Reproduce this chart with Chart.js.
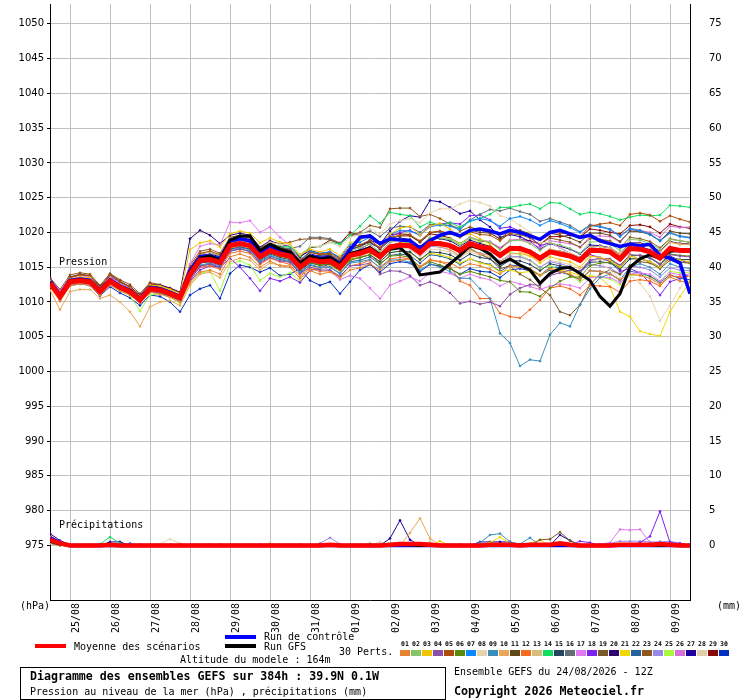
<!DOCTYPE html>
<html>
<head>
<meta charset="utf-8">
<script src="https://cdn.jsdelivr.net/npm/chart.js"></script>
<style>
html,body{margin:0;padding:0;background:#fff;}
#wrap{position:relative;width:740px;height:700px;overflow:hidden;background:#fff;}
#c{position:absolute;left:0;top:0;}
.t{position:absolute;font-family:"DejaVu Sans Mono",monospace;font-size:10px;line-height:12px;height:12px;color:#000;white-space:nowrap;}
.b{font-weight:bold;}
.ln{position:absolute;height:4px;width:31px;}
.sq{position:absolute;width:10px;height:6px;top:650px;}
.sl{position:absolute;top:640px;width:11px;text-align:center;font-family:"DejaVu Sans Mono",monospace;font-weight:bold;font-size:6.5px;line-height:8px;color:#000;}
#box{position:absolute;left:20px;top:667px;width:424px;height:31px;border:1px solid #000;}
</style>
</head>
<body>
<div id="wrap">
<canvas id="c" width="740" height="700"></canvas>
<div class="t" style="left:59px;top:256px;">Pression</div>
<div class="t" style="left:59px;top:519px;">Précipitations</div>
<div class="t" style="left:20px;top:600px;">(hPa)</div>
<div class="t" style="left:717px;top:600px;">(mm)</div>
<div class="ln" style="left:35px;top:644px;background:#ff0000;"></div>
<div class="t" style="left:74px;top:641px;">Moyenne des scénarios</div>
<div class="ln" style="left:225px;top:635px;background:#0000ff;"></div>
<div class="t" style="left:264px;top:631px;">Run de contrôle</div>
<div class="ln" style="left:225px;top:644px;background:#000;"></div>
<div class="t" style="left:264px;top:641px;">Run GFS</div>
<div class="t" style="left:339px;top:646px;">30 Perts.</div>
<div class="t" style="left:180px;top:654px;">Altitude du modele : 164m</div>
<div id="squares"></div>
<div id="box"></div>
<div class="t b" style="left:30px;top:670px;font-size:11.6px;line-height:13px;">Diagramme des ensembles GEFS sur 384h : 39.9N 0.1W</div>
<div class="t" style="left:30px;top:686px;">Pression au niveau de la mer (hPa) , précipitations (mm)</div>
<div class="t" style="left:454px;top:666px;">Ensemble GEFS du 24/08/2026 - 12Z</div>
<div class="t b" style="left:454px;top:685px;font-size:11.7px;line-height:13px;">Copyright 2026 Meteociel.fr</div>
</div>
<script>
// ---------- DATA ----------
const STEP_H = 6;            // hours between points (0..384h)
const DATE_LABELS = ['25/08','26/08','27/08','28/08','29/08','30/08','31/08','01/09','02/09','03/09','04/09','05/09','06/09','07/09','08/09','09/09'];
const DATE_HOURS  = [12,36,60,84,108,132,156,180,204,228,252,276,300,324,348,372];
const P_TICKS = [975,980,985,990,995,1000,1005,1010,1015,1020,1025,1030,1035,1040,1045,1050];
const R_TICKS = [0,5,10,15,20,25,30,35,40,45,50,55,60,65,70,75];
const PERT_COLORS = ['#E8822E','#88C46A','#F2C300','#8C4FA8','#B04C0A','#5A8A0A','#0A88FF','#E8D2AE','#3A8EBE','#E8A858',
                     '#60481A','#F86A20','#D4C07C','#10DC60','#25455C','#626E78','#E07AF0','#8020F0','#7A5A2A','#2E0670',
                     '#F0D800','#24609A','#8E5820','#9A88E8','#A8F840','#D870D8','#2000A0','#E2CEA8','#880808','#0030C0'];

// Sea level pressure (hPa)
const MEAN_P = [1012.7,1010.8,1012.9,1013.1,1012.9,1011.5,1013.0,1012.1,1011.5,1010.3,1011.9,1011.7,1011.2,1010.6,
1014.0,1016.0,1016.1,1015.7,1018.1,1018.4,1018.1,1016.5,1017.4,1016.9,1016.6,1015.0,1016.1,1015.8,1015.9,1015.0,
1016.7,1017.0,1017.5,1016.5,1017.9,1018.2,1018.1,1017.1,1018.4,1018.4,1018.1,1017.4,1018.4,1017.9,1017.7,1016.7,
1017.7,1017.7,1017.2,1016.3,1017.2,1016.9,1016.6,1016.0,1017.4,1017.4,1017.2,1016.2,1017.7,1017.6,1017.2,1016.3,1017.7,1017.4,1017.4];
const CTRL_P = [1012.9,1011.0,1013.1,1013.3,1013.1,1011.7,1013.2,1012.3,1011.7,1010.5,1012.1,1011.9,1011.4,1010.8,
1014.5,1016.5,1016.6,1016.2,1018.8,1019.1,1018.8,1017.0,1017.9,1017.3,1017.1,1015.5,1016.6,1016.3,1016.4,1015.5,
1017.5,1019.3,1019.5,1018.4,1019.1,1018.9,1018.8,1017.7,1018.8,1019.6,1020.0,1019.5,1020.3,1020.5,1020.2,1019.8,
1020.3,1020.0,1019.5,1019.0,1020.0,1020.3,1019.8,1019.3,1019.6,1018.8,1018.4,1018.0,1018.3,1018.1,1018.3,1016.7,1016.3,1015.6,1011.2];
const GFS_P = [1012.8,1010.9,1013.0,1013.2,1013.0,1011.6,1013.1,1012.2,1011.6,1010.4,1012.0,1011.8,1011.3,1010.7,
1014.3,1016.3,1016.6,1016.0,1018.9,1019.5,1019.5,1017.4,1018.3,1017.6,1017.2,1015.6,1016.6,1016.2,1016.4,1015.4,
1017.0,1017.3,1017.8,1016.8,1017.6,1017.8,1016.5,1013.9,1014.1,1014.3,1015.5,1016.7,1018.1,1017.7,1016.9,1015.5,
1016.2,1015.3,1014.6,1012.7,1014.1,1014.8,1015.0,1014.1,1013.1,1010.8,1009.4,1011.2,1015.0,1016.2,1016.8,1016.2,1017.3,1017.4,1017.4];

const P01 = [1012.2,1010.1,1012.3,1012.6,1012.4,1011.0,1012.4,1011.6,1011.0,1009.9,1011.4,1011.1,1010.7,1010.0,
1012.8,1014.3,1014.6,1014.0,1016.5,1016.9,1016.4,1015.0,1015.9,1015.2,1015.0,1013.4,1014.5,1014.0,1014.3,1013.5,
1014.6,1014.9,1015.5,1014.6,1015.8,1016.0,1016.2,1015.0,1016.0,1015.8,1015.6,1014.9,1015.5,1015.2,1014.7,1014.0,
1015.2,1015.0,1014.8,1013.9,1014.8,1014.4,1014.0,1013.3,1014.5,1014.4,1014.0,1013.2,1014.0,1013.8,1013.4,1012.6,1013.6,1013.0,1012.8];
const P02 = [1012.9,1011.2,1013.2,1013.4,1013.2,1011.9,1013.3,1012.5,1011.8,1010.7,1012.2,1012.0,1011.5,1010.8,
1014.5,1016.4,1016.6,1016.1,1018.7,1019.0,1018.6,1017.0,1017.9,1017.5,1017.2,1015.6,1016.8,1016.4,1016.5,1015.6,
1017.3,1017.8,1018.3,1017.2,1018.6,1019.0,1018.8,1017.8,1019.3,1019.2,1019.0,1018.1,1019.2,1018.9,1018.6,1017.5,
1018.8,1018.9,1018.4,1017.4,1018.5,1018.2,1017.7,1017.0,1018.6,1018.7,1018.4,1017.4,1019.0,1018.9,1018.4,1017.6,1019.0,1018.8,1018.6];
const P03 = [1013.0,1011.0,1013.3,1013.6,1013.5,1012.0,1013.4,1012.4,1011.9,1010.8,1012.4,1012.3,1011.8,1011.2,
1017.5,1018.5,1018.8,1017.9,1019.8,1020.2,1019.9,1018.5,1019.2,1018.6,1018.4,1016.8,1017.6,1017.2,1017.6,1016.6,
1018.5,1018.9,1019.6,1018.2,1019.8,1020.6,1020.9,1019.6,1020.9,1021.3,1020.5,1019.4,1019.8,1019.1,1018.3,1016.9,
1017.6,1017.3,1016.6,1015.6,1016.5,1016.1,1015.8,1015.0,1016.6,1016.4,1016.0,1015.1,1016.6,1016.2,1015.8,1015.0,1016.4,1016.0,1015.8];
const P04 = [1012.5,1010.6,1012.7,1012.9,1012.6,1011.2,1012.8,1011.9,1011.2,1010.0,1011.6,1011.4,1010.9,1010.3,
1013.2,1015.1,1015.5,1015.0,1017.3,1017.7,1017.2,1015.6,1016.4,1015.9,1015.7,1014.1,1015.0,1014.6,1014.6,1013.7,
1015.2,1015.3,1015.6,1014.0,1014.5,1014.4,1013.8,1012.4,1012.9,1012.3,1011.3,1009.8,1010.1,1009.7,1010.0,1009.4,
1011.1,1012.0,1012.5,1012.4,1013.8,1014.2,1014.6,1014.4,1016.0,1016.3,1016.2,1015.3,1016.8,1016.7,1016.4,1015.4,1016.8,1016.6,1016.5];
const P05 = [1013.1,1011.3,1013.5,1013.9,1013.8,1012.2,1013.9,1012.9,1012.1,1010.9,1012.6,1012.3,1011.9,1011.3,
1015.0,1017.0,1017.3,1016.8,1019.0,1019.3,1019.0,1017.4,1018.2,1017.8,1017.5,1016.0,1017.1,1016.9,1017.0,1016.2,
1017.8,1018.2,1018.9,1017.8,1019.3,1019.6,1019.6,1018.8,1020.0,1020.2,1019.8,1019.3,1020.1,1019.7,1019.6,1018.8,
1019.9,1020.1,1019.6,1019.0,1020.0,1019.9,1019.8,1019.4,1020.9,1021.2,1021.4,1021.0,1022.6,1022.8,1022.5,1021.6,1022.4,1021.9,1021.5];
const P06 = [1012.8,1010.9,1012.8,1013.0,1012.7,1011.4,1012.9,1012.0,1011.4,1010.1,1011.8,1011.5,1011.0,1010.4,
1014.1,1015.8,1016.0,1015.6,1018.0,1018.2,1017.9,1016.3,1017.2,1016.6,1016.3,1014.7,1015.7,1015.3,1015.5,1014.6,
1016.0,1016.4,1016.8,1015.5,1016.6,1016.7,1016.4,1015.0,1015.8,1015.3,1014.8,1014.0,1014.4,1014.0,1013.6,1013.1,
1012.9,1011.5,1011.4,1010.8,1012.0,1013.0,1013.6,1013.6,1015.2,1015.6,1015.7,1015.0,1016.6,1016.7,1016.4,1015.5,1016.9,1016.7,1016.6];
const P07 = [1012.9,1011.0,1013.1,1013.3,1013.1,1011.7,1013.2,1012.3,1011.7,1010.5,1012.1,1011.9,1011.4,1010.8,
1014.6,1016.5,1016.7,1016.3,1018.8,1019.2,1018.8,1017.3,1018.3,1017.8,1017.6,1016.0,1017.3,1017.0,1017.2,1016.4,
1018.3,1018.6,1019.3,1018.5,1019.7,1020.3,1020.2,1019.6,1020.8,1021.1,1020.9,1020.4,1021.7,1022.0,1021.7,1020.9,
1022.0,1022.3,1021.8,1021.0,1021.7,1021.3,1020.7,1020.0,1021.0,1020.8,1020.4,1019.4,1020.5,1020.2,1019.7,1018.8,1019.9,1019.4,1019.2];
const P08 = [1012.6,1010.9,1013.0,1013.2,1013.0,1011.6,1013.1,1012.2,1011.6,1010.4,1012.0,1011.8,1011.3,1010.7,
1014.8,1017.0,1017.2,1016.7,1019.1,1019.3,1019.0,1017.6,1018.6,1018.3,1018.2,1016.8,1018.0,1018.0,1018.6,1018.0,
1019.3,1019.7,1020.5,1019.8,1021.2,1021.7,1022.0,1021.4,1022.8,1023.4,1023.4,1024.1,1024.6,1024.3,1023.8,1022.4,
1022.0,1021.0,1020.0,1018.5,1018.6,1017.8,1017.0,1015.8,1016.4,1015.6,1014.6,1013.4,1013.8,1012.7,1010.8,1007.3,1009.5,1012.0,1014.0];
const P09 = [1012.5,1010.5,1012.6,1012.8,1012.5,1011.1,1012.6,1011.7,1011.2,1010.0,1011.5,1011.3,1010.8,1010.1,
1013.5,1015.3,1015.6,1015.2,1017.5,1017.8,1017.5,1015.9,1016.7,1016.2,1015.9,1014.3,1015.4,1015.0,1015.0,1014.1,
1015.6,1015.8,1016.1,1014.9,1016.0,1016.1,1015.7,1014.6,1015.5,1015.0,1014.4,1013.4,1013.4,1011.9,1010.5,1005.5,
1004.1,1000.8,1001.7,1001.5,1005.3,1007.0,1006.5,1009.6,1011.9,1013.5,1014.0,1013.2,1015.0,1015.5,1015.0,1014.0,1015.5,1015.0,1014.8];
const P10 = [1011.7,1008.9,1011.5,1011.8,1011.8,1010.5,1011.0,1010.0,1008.6,1006.5,1009.3,1010.0,1010.2,1009.5,
1012.4,1014.0,1014.3,1013.5,1015.8,1016.3,1016.0,1014.6,1015.6,1015.3,1015.2,1013.8,1015.0,1014.9,1015.2,1014.4,
1016.0,1016.5,1017.2,1016.4,1017.6,1018.0,1018.0,1017.0,1018.2,1018.0,1017.5,1016.6,1017.5,1016.9,1016.7,1015.8,
1016.9,1017.0,1016.6,1015.9,1017.0,1016.8,1016.6,1016.1,1017.6,1017.7,1017.6,1016.8,1018.3,1018.3,1018.0,1017.2,1018.6,1018.3,1018.3];
const P11 = [1013.2,1011.2,1013.6,1014.0,1013.8,1012.0,1014.0,1013.0,1012.2,1010.9,1012.4,1012.1,1011.6,1010.9,
1014.9,1016.9,1017.2,1016.6,1019.1,1019.4,1019.2,1017.8,1018.5,1017.9,1017.5,1016.0,1017.2,1016.8,1016.8,1016.0,
1017.6,1018.0,1018.6,1017.7,1019.1,1019.5,1019.5,1018.6,1020.0,1020.1,1019.9,1019.4,1020.4,1020.0,1019.9,1019.1,
1020.2,1020.3,1019.8,1019.0,1019.9,1019.6,1019.2,1018.6,1019.9,1019.9,1019.6,1018.7,1020.2,1020.1,1019.7,1018.8,1020.2,1019.9,1019.8];
const P12 = [1012.3,1010.3,1012.5,1012.7,1012.5,1011.1,1012.6,1011.7,1011.1,1009.9,1011.5,1011.3,1010.8,1010.2,
1013.2,1015.0,1015.2,1014.7,1017.0,1017.3,1017.0,1015.4,1016.3,1015.8,1015.4,1013.7,1014.8,1014.4,1014.5,1013.6,
1015.2,1015.5,1016.0,1015.0,1016.2,1016.4,1016.2,1015.1,1016.1,1015.8,1015.2,1013.0,1012.4,1010.5,1010.5,1008.4,
1007.9,1007.7,1008.9,1010.3,1012.0,1012.3,1011.9,1011.0,1012.4,1012.3,1012.2,1011.4,1013.0,1013.2,1013.0,1012.3,1013.8,1013.6,1013.7];
const P13 = [1012.8,1010.9,1013.0,1013.2,1013.0,1011.6,1013.1,1012.2,1011.6,1010.4,1012.0,1011.8,1011.3,1010.7,
1014.0,1015.9,1016.0,1015.5,1017.9,1018.2,1017.9,1016.3,1017.2,1016.7,1016.5,1014.9,1016.1,1015.8,1015.9,1015.1,
1016.8,1017.1,1017.5,1016.6,1018.0,1018.2,1018.1,1017.1,1018.3,1018.2,1017.9,1017.2,1018.3,1017.8,1017.6,1016.6,
1017.8,1017.9,1017.4,1016.6,1017.6,1017.3,1017.0,1016.4,1017.9,1018.0,1017.8,1016.9,1018.4,1018.4,1018.0,1017.2,1018.6,1018.3,1018.3];
const P14 = [1012.9,1011.1,1013.2,1013.4,1013.1,1011.8,1013.3,1012.4,1011.8,1010.6,1012.2,1012.0,1011.5,1010.9,
1014.6,1016.6,1016.8,1016.3,1018.9,1019.3,1018.9,1017.4,1018.4,1018.0,1017.9,1016.6,1017.9,1018.0,1018.6,1018.3,
1019.6,1020.9,1022.4,1021.3,1022.9,1022.6,1022.4,1020.8,1021.5,1021.0,1021.4,1020.8,1021.6,1022.0,1022.6,1023.6,
1023.6,1023.9,1024.1,1023.4,1024.3,1024.2,1023.4,1022.6,1022.9,1022.7,1022.3,1021.8,1022.2,1022.5,1022.4,1022.5,1023.9,1023.8,1023.6];
const P15 = [1012.6,1010.7,1012.7,1012.9,1012.7,1011.3,1012.8,1011.9,1011.3,1010.1,1011.7,1011.5,1011.0,1010.4,
1013.8,1015.6,1015.8,1015.3,1017.6,1017.9,1017.6,1016.0,1016.9,1016.4,1016.1,1014.5,1015.6,1015.3,1015.4,1014.5,
1016.1,1016.4,1016.8,1015.8,1017.1,1017.3,1017.2,1016.1,1017.2,1017.1,1016.8,1016.0,1016.9,1016.4,1016.2,1015.1,
1016.0,1015.9,1015.4,1014.5,1015.5,1015.2,1014.9,1014.3,1015.7,1015.8,1015.6,1014.7,1016.2,1016.2,1015.8,1015.0,1016.4,1016.1,1016.1];
const P16 = [1012.9,1011.0,1013.1,1013.3,1013.1,1011.7,1013.2,1012.3,1011.7,1010.5,1012.1,1011.9,1011.4,1010.8,
1014.3,1016.3,1016.5,1016.1,1018.5,1018.9,1018.6,1017.1,1018.1,1017.8,1017.7,1018.0,1019.3,1019.3,1019.1,1018.5,
1019.5,1019.8,1020.2,1019.4,1020.6,1020.9,1020.8,1020.0,1021.1,1021.2,1021.0,1020.6,1021.8,1022.6,1023.3,1023.1,
1023.5,1023.0,1022.6,1021.6,1022.0,1021.5,1021.0,1020.1,1021.1,1020.9,1020.5,1019.5,1020.6,1020.3,1019.8,1018.8,1020.0,1019.5,1019.3];
const P17 = [1013.2,1011.6,1013.5,1013.8,1013.6,1012.1,1013.6,1012.7,1012.0,1010.8,1012.3,1012.1,1011.7,1011.0,
1015.5,1018.0,1018.4,1018.2,1021.5,1021.4,1021.7,1020.0,1020.8,1019.3,1018.2,1016.0,1016.2,1015.3,1014.5,1013.2,
1013.8,1013.4,1012.0,1010.5,1012.4,1013.0,1013.6,1013.0,1014.2,1014.4,1014.1,1013.4,1014.0,1013.5,1013.2,1012.3,
1013.0,1012.6,1012.2,1011.8,1012.3,1012.6,1012.4,1012.0,1013.5,1013.6,1013.5,1012.8,1014.0,1014.2,1014.0,1013.0,1014.2,1013.9,1014.0];
const P18 = [1012.8,1010.9,1013.0,1013.1,1012.9,1011.5,1013.0,1012.1,1011.5,1010.3,1011.9,1011.7,1011.2,1010.5,
1013.0,1014.6,1015.2,1015.0,1016.3,1015.0,1013.4,1011.6,1013.4,1013.0,1013.6,1012.8,1014.5,1014.9,1015.5,1015.0,
1016.9,1017.6,1018.4,1017.8,1019.4,1020.0,1020.3,1019.6,1021.0,1021.2,1021.4,1021.2,1022.4,1022.5,1021.8,1020.6,
1020.8,1020.2,1019.4,1018.1,1018.5,1017.8,1017.0,1015.9,1016.8,1016.4,1015.8,1014.4,1014.8,1014.2,1012.7,1011.0,1012.9,1013.4,1014.0];
const P19 = [1013.0,1011.1,1013.3,1013.5,1013.2,1011.8,1013.3,1012.4,1011.8,1010.6,1012.2,1012.0,1011.5,1010.9,
1014.2,1016.2,1016.3,1015.8,1018.3,1018.6,1018.3,1016.7,1017.7,1017.2,1016.9,1015.3,1016.4,1016.1,1016.2,1015.3,
1016.9,1017.3,1017.8,1016.8,1018.1,1018.4,1018.3,1017.2,1018.4,1018.3,1017.9,1017.0,1017.7,1016.9,1016.2,1014.8,
1015.2,1014.0,1013.2,1012.0,1011.0,1008.6,1008.1,1009.6,1012.5,1014.0,1014.6,1014.0,1015.3,1015.8,1015.6,1014.8,1016.0,1015.7,1015.6];
const P20 = [1013.4,1011.5,1013.6,1013.9,1013.7,1012.3,1013.7,1012.8,1012.2,1011.0,1012.6,1012.4,1012.0,1011.4,
1019.1,1020.3,1019.6,1018.4,1019.6,1019.9,1019.6,1017.9,1018.8,1018.3,1018.0,1016.5,1017.4,1017.0,1017.2,1016.3,
1017.9,1018.2,1018.7,1017.6,1018.9,1019.2,1019.0,1018.0,1019.2,1019.1,1018.8,1018.0,1018.9,1018.4,1018.0,1017.0,
1017.9,1017.9,1017.4,1016.5,1017.5,1017.3,1017.0,1016.4,1017.9,1018.0,1017.8,1016.9,1018.5,1018.5,1018.1,1017.3,1018.7,1018.4,1018.4];
const P21 = [1012.7,1010.7,1012.8,1013.0,1012.8,1011.5,1013.0,1012.1,1011.5,1010.2,1011.8,1011.6,1011.1,1010.5,
1014.2,1016.0,1016.0,1015.6,1017.8,1018.1,1017.8,1016.2,1017.0,1016.5,1016.2,1014.6,1015.6,1015.3,1015.4,1014.6,
1016.2,1016.4,1016.8,1015.8,1017.1,1017.3,1017.1,1016.0,1017.0,1016.8,1016.4,1015.6,1016.2,1015.6,1015.3,1014.3,
1014.6,1014.2,1014.4,1013.8,1014.8,1014.6,1014.3,1013.8,1013.7,1013.5,1012.2,1008.6,1007.9,1005.8,1005.4,1005.1,1008.6,1010.8,1012.9];
const P22 = [1012.4,1010.4,1012.6,1012.8,1012.6,1011.2,1012.7,1011.8,1011.2,1010.0,1011.6,1011.4,1010.9,1010.2,
1013.4,1015.2,1015.4,1015.0,1017.3,1017.6,1017.3,1015.7,1016.6,1016.1,1015.8,1014.2,1015.3,1014.9,1015.0,1014.1,
1015.8,1016.0,1016.5,1015.4,1016.7,1016.9,1016.7,1015.6,1016.8,1016.6,1016.2,1015.4,1016.2,1015.7,1015.4,1014.4,
1015.3,1015.2,1014.7,1013.8,1014.6,1014.3,1013.9,1013.2,1014.5,1014.4,1014.1,1013.1,1014.4,1014.2,1013.7,1012.8,1013.9,1013.4,1013.2];
const P23 = [1013.5,1011.8,1013.9,1014.2,1014.0,1012.4,1014.1,1013.2,1012.5,1011.2,1012.8,1012.5,1012.0,1011.4,
1015.3,1017.3,1017.6,1017.0,1019.3,1019.6,1019.3,1017.7,1018.6,1018.4,1018.6,1019.0,1019.1,1019.1,1019.0,1018.3,
1019.6,1020.0,1021.0,1020.7,1023.4,1023.5,1023.5,1022.3,1022.6,1022.0,1021.2,1020.2,1020.8,1020.3,1020.0,1019.0,
1019.8,1019.7,1019.2,1018.3,1019.2,1018.9,1018.6,1017.9,1019.1,1019.0,1018.8,1017.8,1019.3,1019.1,1018.7,1017.8,1019.1,1018.8,1018.6];
const P24 = [1013.1,1011.2,1013.3,1013.5,1013.4,1011.9,1013.4,1012.5,1011.9,1010.6,1012.2,1012.0,1011.6,1011.0,
1014.0,1015.6,1015.8,1015.4,1017.6,1017.9,1017.7,1016.2,1017.0,1016.6,1016.3,1014.8,1015.8,1015.5,1015.6,1014.8,
1016.4,1016.7,1017.2,1016.3,1017.6,1017.9,1017.8,1016.8,1018.0,1017.9,1017.5,1016.6,1017.5,1017.0,1016.8,1015.9,
1016.6,1016.5,1016.0,1015.0,1015.8,1015.5,1015.1,1014.3,1015.4,1015.2,1014.9,1014.0,1015.2,1015.0,1014.6,1013.6,1014.9,1014.6,1014.5];
const P25 = [1012.5,1010.6,1012.7,1012.9,1012.6,1011.2,1012.8,1011.6,1010.9,1008.7,1011.0,1011.2,1010.7,1009.8,
1012.4,1014.2,1014.4,1011.6,1015.5,1015.9,1015.3,1013.1,1014.1,1013.6,1014.2,1013.0,1014.6,1014.8,1015.2,1014.5,
1016.2,1016.8,1017.4,1016.6,1018.0,1018.5,1018.6,1017.8,1019.2,1019.3,1019.1,1018.4,1019.2,1018.6,1018.0,1016.8,
1017.2,1016.8,1016.0,1014.8,1015.2,1014.6,1013.8,1012.9,1013.8,1013.6,1013.3,1012.5,1013.8,1013.9,1013.7,1013.0,1014.4,1014.2,1014.3];
const P26 = [1012.9,1011.0,1013.1,1013.3,1013.1,1011.7,1013.2,1012.3,1011.7,1010.5,1012.1,1011.9,1011.4,1010.8,
1014.4,1016.3,1016.4,1016.0,1018.4,1018.8,1018.5,1016.9,1017.8,1017.3,1017.0,1015.4,1016.5,1016.2,1016.3,1015.4,
1017.1,1017.5,1018.0,1017.1,1018.6,1018.9,1018.8,1017.8,1019.2,1019.3,1019.0,1018.3,1019.3,1018.9,1018.7,1017.8,
1018.9,1019.0,1018.6,1017.8,1018.8,1018.6,1018.4,1017.9,1019.4,1019.5,1019.4,1018.6,1020.2,1020.3,1020.0,1019.3,1020.9,1020.7,1020.8];
const P27 = [1013.0,1011.1,1013.2,1013.5,1013.3,1011.8,1013.3,1012.4,1011.8,1010.6,1012.2,1012.0,1011.5,1010.9,
1014.8,1016.7,1016.9,1016.5,1018.9,1019.2,1018.9,1017.3,1018.2,1017.7,1017.4,1015.8,1016.9,1016.6,1016.7,1015.8,
1017.5,1018.0,1018.9,1018.3,1020.2,1021.6,1022.4,1022.2,1024.6,1024.4,1023.6,1022.7,1023.1,1021.8,1020.8,1019.3,
1019.7,1019.4,1018.7,1017.6,1018.4,1018.0,1017.6,1016.9,1018.2,1018.1,1017.8,1016.8,1018.2,1018.0,1017.5,1016.6,1017.9,1017.5,1017.4];
const P28 = [1012.6,1010.8,1012.9,1013.1,1012.9,1011.5,1013.0,1012.1,1011.5,1010.3,1011.9,1011.7,1011.2,1010.6,
1013.6,1015.6,1015.9,1015.5,1017.8,1018.1,1017.8,1016.2,1017.1,1016.6,1016.3,1014.7,1015.8,1015.5,1015.6,1014.7,
1016.4,1016.7,1017.2,1016.2,1017.5,1017.7,1017.6,1016.5,1017.6,1017.5,1017.2,1016.4,1017.2,1016.7,1016.5,1015.5,
1016.4,1016.4,1015.9,1015.0,1016.0,1015.7,1015.4,1014.7,1016.1,1016.1,1015.9,1014.9,1016.3,1016.2,1015.7,1014.8,1016.1,1015.7,1015.6];
const P29 = [1013.1,1011.2,1013.3,1013.5,1013.3,1011.9,1013.4,1012.5,1011.9,1010.7,1012.3,1012.1,1011.6,1011.0,
1014.6,1016.5,1016.6,1016.2,1018.6,1019.0,1018.7,1017.2,1018.2,1017.8,1017.6,1016.4,1017.8,1018.0,1018.9,1018.4,
1020.0,1019.6,1019.4,1018.5,1019.7,1019.8,1019.7,1018.6,1019.8,1019.6,1019.2,1018.4,1019.3,1018.8,1018.6,1017.7,
1018.8,1019.0,1018.8,1018.3,1019.4,1019.4,1019.6,1019.3,1020.5,1020.3,1020.0,1019.8,1021.0,1021.1,1020.8,1019.9,1021.2,1020.8,1020.6];
const P30 = [1012.9,1010.3,1012.4,1012.6,1012.4,1010.9,1012.2,1011.3,1010.6,1009.5,1011.0,1010.8,1010.0,1008.6,
1011.0,1011.9,1012.4,1010.5,1014.1,1015.3,1015.0,1014.3,1014.9,1013.8,1014.0,1014.8,1013.1,1012.4,1012.9,1011.2,
1012.9,1014.6,1015.4,1014.3,1015.5,1015.8,1015.6,1014.4,1015.4,1015.2,1014.8,1014.0,1014.8,1014.4,1014.3,1013.5,
1014.6,1014.8,1014.5,1013.8,1015.0,1015.0,1014.9,1014.4,1016.0,1016.2,1016.1,1015.2,1016.7,1016.7,1016.3,1015.4,1016.6,1016.0,1015.6];
const PERT_P = [P01,P02,P03,P04,P05,P06,P07,P08,P09,P10,P11,P12,P13,P14,P15,P16,P17,P18,P19,P20,P21,P22,P23,P24,P25,P26,P27,P28,P29,P30];

// Precipitation (mm / 6h)
const MEAN_R = [0.8,0.3,0,0,0,0,0.1,0,0,0,0,0,0,0, 0,0,0,0,0,0,0,0,0,0,0,0,0,0,0.1,0,
 0,0,0,0,0.1,0.2,0.2,0.2,0.1,0,0,0,0,0,0.1,0.1, 0.1,0,0.1,0.1,0.1,0.3,0.1,0,0,0,0,0.1,0.1,0.1,0.1,0.2,0.1,0,0];
const CTRL_R = [1.0,0.4,0,0,0,0,0,0,0,0,0,0,0,0, 0,0,0,0,0,0,0,0,0,0,0,0,0,0,0,0,
 0,0,0,0,0,0,0,0,0,0,0,0,0,0,0,0, 0,0,0,0,0,0,0,0,0,0,0,0,0,0,0,0,0,0,0];
const GFS_R = [0.6,0.2,0,0,0,0,0,0,0,0,0,0,0,0, 0,0,0,0,0,0,0,0,0,0,0,0,0,0,0,0,
 0,0,0,0,0,0.3,0.1,0,0,0,0,0,0,0,0,0, 0,0,0,0,0,0.2,0,0,0,0,0,0,0,0,0,0,0,0,0];
// non-zero member precipitation: [member, step, mm]
const PERT_R_EVENTS = [
 [1,0,0.5],[2,0,0.4],[3,0,0.6],[4,0,0.3],[5,0,0.8],[6,0,0.4],[7,0,0.6],[8,0,0.5],[9,0,0.7],[10,0,0.3],
 [11,0,0.9],[12,0,0.5],[13,0,0.4],[14,0,0.6],[15,0,0.8],[16,0,0.5],[17,0,1.2],[18,0,0.4],[19,0,0.7],[20,0,1.0],
 [21,0,0.3],[22,0,0.6],[23,0,0.9],[24,0,1.1],[25,0,0.5],[26,0,0.8],[27,0,1.7],[28,0,0.4],[29,0,1.4],[30,0,0.9],
 [5,1,0.3],[11,1,0.4],[17,1,0.5],[20,1,0.4],[23,1,0.3],[24,1,0.5],[27,1,0.7],[29,1,0.5],[30,1,0.4],
 [14,5,0.2],[14,6,1.2],[14,7,0.3],[27,6,0.5],[27,7,0.5],[7,8,0.3],
 [8,11,0.2],[8,12,0.9],[8,13,0.3],[13,16,0.2],[13,22,0.3],[28,22,0.2],
 [24,27,0.3],[24,28,1.1],[24,29,0.2],[2,32,0.3],[28,33,0.5],
 [27,34,1.0],[27,35,3.6],[27,36,0.8],[10,36,1.8],[10,37,3.9],[10,38,1.0],[3,39,0.6],[13,38,0.5],
 [27,43,0.5],[27,44,0.5],[27,45,0.5],[27,46,0.5],[9,43,0.4],[9,44,1.5],[9,45,1.7],[9,46,0.5],[21,44,0.4],[21,45,1.2],[21,46,0.3],
 [9,47,0.2],[9,48,1.1],[21,48,0.3],[21,49,0.8],[19,49,0.8],[19,50,0.9],[19,51,1.9],[19,52,0.7],[27,51,1.5],[27,52,0.7],[18,53,0.6],[18,54,0.4],
 [17,55,0.2],[17,56,0.4],[17,57,2.3],[17,58,2.2],[17,59,2.3],[17,60,0.4],
 [24,56,0.3],[24,57,0.6],[24,58,0.6],[24,59,0.6],[24,60,0.5],[24,61,0.5],[24,62,0.6],[24,63,0.3],
 [18,59,0.4],[18,60,1.3],[18,61,4.9],[18,62,0.4],[18,63,0.3],[27,61,0.5],[30,62,0.2]
];
const N_STEPS = MEAN_P.length;

// ---------- BUILD ----------
[MEAN_P,CTRL_P,GFS_P,MEAN_R,CTRL_R,GFS_R].concat(PERT_P).forEach((a,k)=>{
  if(a.length!==N_STEPS) throw new Error('series '+k+' has length '+a.length);
});
const pts = arr => arr.map((v,i)=>({x:i*STEP_H, y:v}));
const pertR = PERT_P.map(()=>new Array(N_STEPS).fill(0));
PERT_R_EVENTS.forEach(([m,i,v])=>{ pertR[m-1][i]=v; });

// legend squares
const sqWrap = document.getElementById('squares');
PERT_COLORS.forEach((c,k)=>{
  const s=document.createElement('div'); s.className='sq'; s.style.left=(400+11*k)+'px'; s.style.background=c; sqWrap.appendChild(s);
  const l=document.createElement('div'); l.className='sl'; l.style.left=(399.5+11*k)+'px'; l.textContent=String(k+1).padStart(2,'0'); sqWrap.appendChild(l);
});

const datasets = [];
function add(data, axis, color, width, order, marker){
  datasets.push({data: pts(data), yAxisID: axis, borderColor: color, backgroundColor: color,
    borderWidth: width, pointRadius: marker?1.6:0, pointStyle:'rectRot', pointBorderWidth:0,
    pointBackgroundColor: color, tension:0, fill:false, order: order});
}
add(MEAN_P,'yP','#ff0000',5,0,false);
add(MEAN_R,'yR','#ff0000',4.5,0,false);
add(GFS_P,'yP','#000000',3,1,false);
add(GFS_R,'yR','#000000',3,1,false);
add(CTRL_P,'yP','#0000ff',3.5,2,false);
add(CTRL_R,'yR','#0000ff',3.5,2,false);
PERT_P.forEach((arr,k)=>{
  add(arr,'yP',PERT_COLORS[k],1,10+k,true);
  add(pertR[k],'yR',PERT_COLORS[k],1,10+k,true);
});

const GRID = '#c0c0c0';
const tickFont = {family:'DejaVu Sans', size:10};
new Chart(document.getElementById('c'), {
  type:'line',
  data:{datasets},
  options:{
    responsive:false, animation:false, devicePixelRatio:1,
    layout:{padding:0},
    plugins:{legend:{display:false}, tooltip:{enabled:false}},
    events:[],
    scales:{
      x:{type:'linear', axis:'x', position:'bottom', min:0, max:(N_STEPS-1)*STEP_H,
        afterBuildTicks:s=>{ s.ticks = DATE_HOURS.map(v=>({value:v})); },
        afterFit:s=>{ s.height=100; s.paddingLeft=0; s.paddingRight=0; },
        grid:{color:GRID, lineWidth:1, drawTicks:false},
        border:{display:true, color:'#000', width:1},
        ticks:{autoSkip:false, minRotation:90, maxRotation:90, padding:3, labelOffset:6, color:'#000',
          font:{family:'DejaVu Sans Mono', size:10},
          callback:v=>{ const k=DATE_HOURS.indexOf(v); return k>=0?DATE_LABELS[k]:''; }}
      },
      yP:{type:'linear', axis:'y', position:'left', min:967.15, max:1052.85,
        afterBuildTicks:s=>{ s.ticks = P_TICKS.map(v=>({value:v})); },
        afterFit:s=>{ s.width=50; s.paddingTop=0; s.paddingBottom=0; },
        grid:{color:GRID, lineWidth:1, tickColor:'#000', tickLength:3},
        border:{display:true, color:'#000', width:1},
        ticks:{color:'#000', font:tickFont, padding:3, callback:v=>String(v)}
      },
      yR:{type:'linear', axis:'y', position:'right', min:-7.85, max:77.85,
        afterBuildTicks:s=>{ s.ticks = R_TICKS.map(v=>({value:v})); },
        afterFit:s=>{ s.width=50; s.paddingTop=0; s.paddingBottom=0; },
        grid:{drawOnChartArea:false, drawTicks:false},
        border:{display:true, color:'#000', width:1},
        ticks:{color:'#000', font:tickFont, padding:19, callback:v=>String(v)}
      }
    }
  }
});
</script>
</body>
</html>
